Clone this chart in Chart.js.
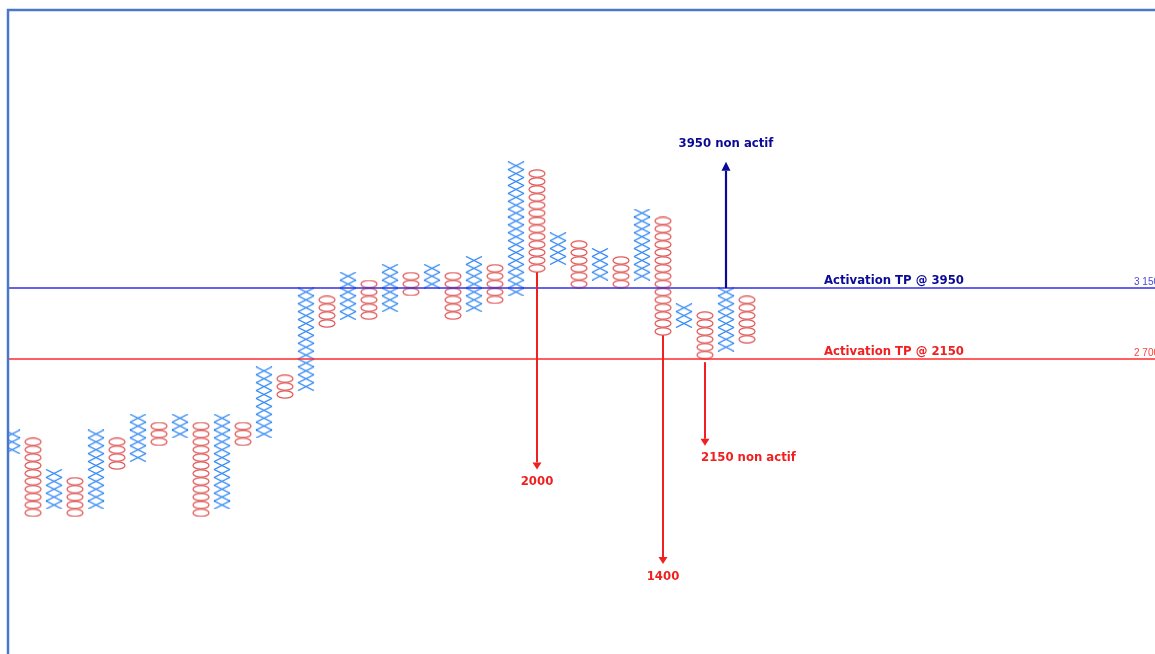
<!DOCTYPE html>
<html>
<head>
<meta charset="utf-8">
<script src="https://cdn.jsdelivr.net/npm/chart.js@4/dist/chart.umd.min.js"></script>
<style>
  html, body { margin: 0; padding: 0; background: #fff; }
  #wrap { width: 1155px; height: 654px; }
</style>
</head>
<body>
<div id="wrap"><canvas id="pf" width="1155" height="654"></canvas></div>
<script>
// --- point & figure data (box = 50) ---
const BOX = 50;
const colKind = ["X","O","X","O","X","O","X","O","X","O","X","O","X","O","X","O","X","O",
                 "X","O","X","O","X","O","X","O","X","O","X","O","X","O","X","O","X","O"];
const colLow  = [2100, 1700, 1750, 1700, 1750, 2000, 2050, 2150, 2200, 1700, 1750, 2150,
                 2200, 2450, 2500, 2900, 2950, 2950, 3000, 3100, 3150, 2950, 3000, 3050,
                 3100, 3250, 3300, 3150, 3200, 3150, 3200, 2850, 2900, 2700, 2750, 2800];
const colHigh = [2200, 2150, 1950, 1900, 2200, 2150, 2300, 2250, 2300, 2250, 2300, 2250,
                 2600, 2550, 3100, 3050, 3200, 3150, 3250, 3200, 3250, 3200, 3300, 3250,
                 3900, 3850, 3450, 3400, 3350, 3300, 3600, 3550, 3000, 2950, 3100, 3050];

// horizontal levels
const levelValues = [3150, 2700];
const levelLabels = ["Activation TP @ 3950", "Activation TP @ 2150"];
const levelTicks = ["3 150", "2 700"];

// target arrows
const arrowCols = [25, 31, 33, 34];
const arrowFrom = [3250, 2850, 2680, 3150];
const arrowTo = [2000, 1400, 2150, 3950];
const arrowLabels = ["2000", "1400", "2150 non actif", "3950 non actif"];

const BLUE_LINE = "#3030e0";
const RED_LINE = "#ff2a2a";
const NAVY = "#0a0a96";
const RED = "#f02020";

// --- mark images ---
function makeMark(kind) {
  const c = document.createElement("canvas");
  c.width = 18;
  c.height = 9;
  const g = c.getContext("2d");
  g.beginPath();
  if (kind === "X") {
    g.strokeStyle = "#3288f5";
    g.lineWidth = 1.35;
    g.moveTo(1, 0.5); g.lineTo(17, 8.5);
    g.moveTo(1, 8.5); g.lineTo(17, 0.5);
  } else {
    g.strokeStyle = "#e05a5a";
    g.lineWidth = 1.25;
    g.ellipse(9, 4.5, 8, 3.7, 0, 0, Math.PI * 2);
  }
  g.stroke();
  return c;
}

const xPts = [];
const oPts = [];
colKind.forEach((k, i) => {
  for (let p = colLow[i]; p <= colHigh[i]; p += BOX) {
    (k === "X" ? xPts : oPts).push({ x: i, y: p + BOX / 2 });
  }
});

const levelSets = levelValues.map((v, i) => ({
  type: "line",
  data: [{ x: -2, y: v }, { x: 60, y: v }],
  borderColor: i === 0 ? BLUE_LINE : RED_LINE,
  borderWidth: 1.3,
  pointRadius: 0
}));

// --- annotations: arrows, texts, frame ---
const pfNotes = {
  id: "pfNotes",
  afterDatasetsDraw(chart) {
    const { ctx, chartArea, scales: { x, y } } = chart;
    ctx.save();

    // level labels
    levelValues.forEach((v, i) => {
      const py = y.getPixelForValue(v);
      ctx.fillStyle = i === 0 ? NAVY : RED;
      ctx.font = 'bold 11.7px "DejaVu Sans"';
      ctx.textAlign = "left";
      ctx.textBaseline = "middle";
      ctx.fillText(levelLabels[i], 824, py - 7);
      ctx.fillStyle = i === 0 ? "#4a4ad0" : "#ff4040";
      ctx.font = '10px "Liberation Sans"';
      ctx.fillText(levelTicks[i], chartArea.right - 21, py - 6);
    });

    // arrows
    arrowCols.forEach((c, i) => {
      const px = x.getPixelForValue(c);
      const y1 = y.getPixelForValue(arrowFrom[i]);
      const y2 = y.getPixelForValue(arrowTo[i]);
      const up = y2 < y1;
      const col = up ? NAVY : RED;
      const dir = up ? -1 : 1;
      const head = up ? 9 : 7;
      ctx.strokeStyle = col;
      ctx.fillStyle = col;
      ctx.lineWidth = up ? 2.2 : 2;
      ctx.beginPath();
      ctx.moveTo(px, y1);
      ctx.lineTo(px, y2 - dir * head);
      ctx.stroke();
      ctx.beginPath();
      ctx.moveTo(px, y2);
      ctx.lineTo(px - 4.5, y2 - dir * head);
      ctx.lineTo(px + 4.5, y2 - dir * head);
      ctx.closePath();
      ctx.fill();

      ctx.font = 'bold 11.7px "DejaVu Sans"';
      ctx.textBaseline = "middle";
      if (up) {
        ctx.textAlign = "center";
        ctx.fillText(arrowLabels[i], px, y2 - 18);
      } else if (arrowLabels[i].length > 4) {
        ctx.textAlign = "left";
        ctx.fillText(arrowLabels[i], px - 4, y2 + 12);
      } else {
        ctx.textAlign = "center";
        ctx.fillText(arrowLabels[i], px, y2 + 13);
      }
    });

    // frame
    ctx.strokeStyle = "#4a78c8";
    ctx.lineWidth = 2.5;
    ctx.beginPath();
    ctx.moveTo(chartArea.left, chartArea.bottom + 2);
    ctx.lineTo(chartArea.left, chartArea.top);
    ctx.lineTo(chartArea.right + 2, chartArea.top);
    ctx.stroke();
    ctx.restore();
  }
};

new Chart(document.getElementById("pf"), {
  type: "scatter",
  data: {
    datasets: [
      ...levelSets,
      { data: xPts, pointStyle: makeMark("X"), pointRadius: 8 },
      { data: oPts, pointStyle: makeMark("O"), pointRadius: 8 }
    ]
  },
  options: {
    responsive: false,
    animation: false,
    events: [],
    layout: { autoPadding: false, padding: { left: 8, top: 10, right: 0, bottom: 0 } },
    plugins: { legend: { display: false }, tooltip: { enabled: false } },
    scales: {
      x: { type: "linear", display: false, min: -0.1905, max: 54.429 },
      y: { type: "linear", display: false, min: 830.3, max: 4911.9 }
    }
  },
  plugins: [pfNotes]
});
</script>
</body>
</html>
